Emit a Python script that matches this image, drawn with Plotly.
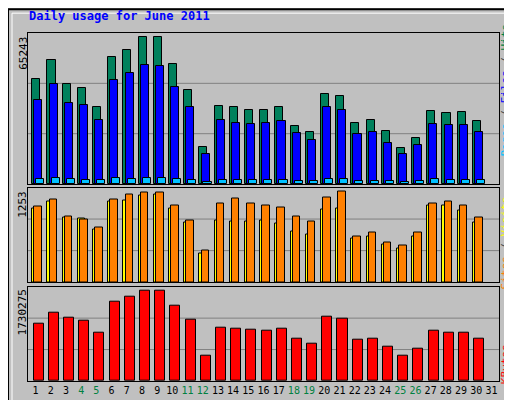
import plotly.graph_objects as go

days = list(range(1, 32))
weekend = [4, 5, 11, 12, 18, 19, 25, 26]

hits = [46642, 55055, 44428, 42656, 34243, 56383, 59483, 65243, 65243, 53284,
        41771, 16531, 34686, 34243, 32915, 32915, 34243, 25830, 23173, 40000,
        39114, 27158, 28487, 23616, 16088, 20516, 32472, 31586, 32029, 28044, None]
files = [37343, 44428, 36014, 35129, 28487, 46199, 49298, 52841, 52398, 43099,
         34243, 13432, 28487, 27158, 26716, 27158, 28044, 22730, 19631, 34243,
         32915, 22288, 23173, 18302, 13432, 17417, 26716, 26273, 26273, 23173, None]
pages = [2362, 2804, 2362, 1919, 1919, 2804, 2362, 2804, 2804, 2362,
         1919, 1033, 1919, 1919, 1919, 1919, 1919, 1476, 1476, 2362,
         2362, 1476, 1476, 1476, 1033, 1476, 2362, 1919, 1919, 1919, None]
visits = [1035, 1144, 899, 858, 749, 1144, 1212, 1239, 1239, 1049,
          844, 436, 1076, 1158, 1076, 1049, 1021, 899, 831, 1171,
          1253, 626, 681, 545, 504, 681, 1076, 1117, 1049, 885, None]
sites = [1008, 1117, 885, 872, 722, 1117, 1130, 1198, 1212, 1008,
         817, 395, 844, 831, 831, 844, 804, 695, 654, 994,
         1008, 599, 627, 518, 463, 627, 1049, 1062, 981, 817, None]
kbytes = [1086180, 1294575, 1199850, 1143015, 915675, 1521915, 1616640, 1730275, 1730275, 1446135,
          1161960, 479940, 1010400, 991455, 972510, 953565, 991455, 802005, 707280, 1218795,
          1180905, 783060, 802005, 650445, 479940, 612555, 953565, 915675, 915675, 802005, None]

max_hits, max_visits, max_kb = 65243, 1253, 1730275

fig = go.Figure()
line = dict(color="black", width=1)

def bar(y, color, off, w, xa, ya):
    fig.add_trace(go.Bar(x=days, y=y, marker=dict(color=color, line=line),
                         offset=off, width=w, xaxis=xa, yaxis=ya, showlegend=False))

bar(hits, "#00805c", -0.22, 0.53, "x", "y")
bar(files, "#0000ff", -0.08, 0.53, "x", "y")
bar(pages, "#00c0ff", 0.05, 0.53, "x", "y")
bar(sites, "#ffff00", -0.22, 0.5, "x2", "y2")
bar(visits, "#ff8000", -0.08, 0.5, "x2", "y2")
bar(kbytes, "#ff0000", -0.13, 0.66, "x3", "y3")

mono = "DejaVu Sans Mono"
ticktext = [f'<span style="color:#008040">{d}</span>' if d in weekend else str(d) for d in days]
doms = {"": [0.566, 1.0], "2": [0.284, 0.556], "3": [0.0, 0.271]}
ranges = {"": max_hits * 455 / 442, "2": max_visits * 287 / 276, "3": max_kb * 285 / 274}
for k, dom in doms.items():
    fig.layout["xaxis" + k] = dict(range=[0.5, 31.5], anchor="y" + k, showgrid=False, zeroline=False,
                                   showline=True, linecolor="black", mirror=True,
                                   tickvals=days if k == "3" else [], ticktext=ticktext,
                                   tickangle=0, ticks="",
                                   tickfont=dict(family=mono, size=10, color="black"))
    fig.layout["yaxis" + k] = dict(domain=dom, range=[0, ranges[k]], anchor="x" + k, showgrid=False,
                                   zeroline=False, showline=True, linecolor="black", mirror=True,
                                   showticklabels=False)
    for f in (1 / 3, 2 / 3):
        fig.add_shape(type="line", xref=f"x{k} domain", yref=f"y{k}", x0=0, x1=1,
                      y0=ranges[k] * f, y1=ranges[k] * f, line=dict(color="#808080", width=1), layer="below")

for k, val in (("", max_hits), ("2", max_visits), ("3", max_kb)):
    fig.add_annotation(text=str(val), xref="paper", yref=f"y{k} domain", x=-0.011, y=0.99,
                       xanchor="center", yanchor="top", textangle=-90, showarrow=False,
                       font=dict(family=mono, size=11, color="black"))

right = [
    ("", '<span style="color:#00c0ff">Pages</span> / <span style="color:#0000ff">Files</span> / <span style="color:#008040">Hits</span>', 0.62),
    ("2", '<span style="color:#ff8000">Sites</span> / <span style="color:#ffff00">Visits</span>', 0.41),
    ("3", '<span style="color:#ff0000">KBytes</span>', 0.18),
]
for k, txt, y in right:
    fig.add_annotation(text=txt, xref="paper", yref=f"y{k} domain", x=1.013, y=y,
                       xanchor="center", yanchor="middle", textangle=-90, showarrow=False,
                       font=dict(family=mono, size=11, color="#404040"))

fig.add_annotation(text="<b>Daily usage for June 2011</b>", xref="paper", yref="paper",
                   x=-0.003, y=1.0, yshift=17, xanchor="left", yanchor="middle", showarrow=False,
                   font=dict(family=mono, size=12, color="#0000ff"))

# outer frame
fig.add_shape(type="rect", xref="paper", yref="paper", x0=-20 / 471, x1=491 / 471,
              y0=-24.3 / 351, y1=375 / 351, line=dict(color="black", width=2), layer="below")
fig.add_shape(type="rect", xref="paper", yref="paper", x0=-16 / 471, x1=487 / 471,
              y0=-20 / 351, y1=371 / 351, line=dict(color="#ffffff", width=1), layer="below")

fig.update_layout(width=512, height=400, margin=dict(l=20, r=21, t=25, b=24),
                  paper_bgcolor="#c0c0c0", plot_bgcolor="#c0c0c0", barmode="overlay",
                  bargap=0)
fig.write_html("out.html")
